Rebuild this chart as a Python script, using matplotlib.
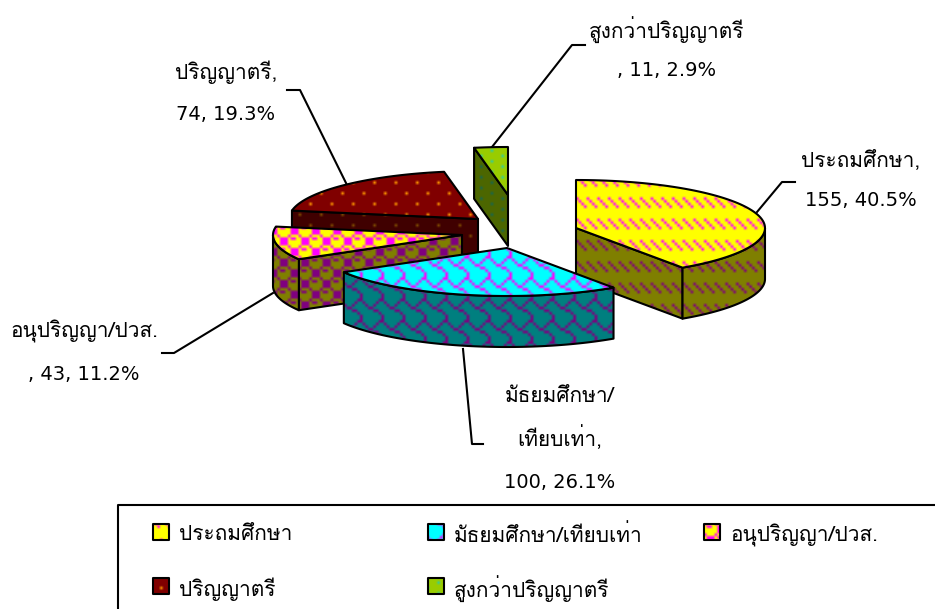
import numpy as np
import matplotlib
matplotlib.use('Agg')
import matplotlib.pyplot as plt
from matplotlib.patches import Polygon

plt.rcParams['font.family'] = ['Loma', 'DejaVu Sans']

# Data
categories = ['ประถมศึกษา', 'มัธยมศึกษา/เทียบเท่า', 'อนุปริญญา/ปวส.', 'ปริญญาตรี', 'สูงกว่าปริญญาตรี']
values = [155, 100, 43, 74, 11]
label_heads = [['ประถมศึกษา,'], ['มัธยมศึกษา/', 'เทียบเท่า,'], ['อนุปริญญา/ปวส.'], ['ปริญญาตรี,'], ['สูงกว่าปริญญาตรี']]
number_prefix = ['', '', ', ', '', ', ']

# Excel fill patterns, 8x8 bits, one byte per row
DASH = [0x00, 0x00, 0x88, 0x44, 0x22, 0x11, 0x00, 0x00]
SHINGLE = [0x03, 0x84, 0x48, 0x30, 0x0c, 0x02, 0x01, 0x01]
SPHERE = [0x77, 0x89, 0x8f, 0x8f, 0x77, 0x98, 0xf8, 0xf8]
DOTS5 = [0x80, 0x00, 0x00, 0x00, 0x08, 0x00, 0x00, 0x00]
DOTS10 = [0x80, 0x00, 0x08, 0x00, 0x80, 0x00, 0x08, 0x00]

# pattern, colour of set bits, colour of clear bits
yellow = (255, 255, 0)
cyan = (0, 255, 255)
magenta = (255, 0, 255)
styles = [
    (DASH, magenta, yellow),
    (SHINGLE, magenta, cyan),
    (SPHERE, yellow, magenta),
    (DOTS5, (255, 153, 0), (128, 0, 0)),
    (DOTS10, (51, 204, 153), (153, 204, 0)),
]

# Pie layout in pixels
W, H = 935, 609
RX, RY, DEPTH = 189, 48, 51
CX, CY = 505, 233
explode_dx = [71, 2, -43, -27, 3]
explode_dy = [-5, 15, 2, -14, -38]
BIT = 8 / 3
LW = 1.5


def darker(c):
    return tuple(v // 2 for v in c)


def fill(ax, pts, bits, on, off, z):
    # pattern image clipped to the polygon, then a black outline
    rows = np.array([[(b >> (7 - i)) & 1 for i in range(8)] for b in bits])
    ny, nx = int(H / BIT / 8) + 2, int(W / BIT / 8) + 2
    mask = np.tile(rows, (ny, nx))
    img = np.where(mask[..., None] == 1, np.array(on), np.array(off)).astype(np.uint8)
    im = ax.imshow(img, extent=(0, nx * 8 * BIT, ny * 8 * BIT, 0), interpolation='bilinear',
                   aspect='auto', zorder=z)
    poly = Polygon(pts, closed=True, facecolor='none', edgecolor='black', lw=LW,
                   joinstyle='round', zorder=z + 0.1)
    ax.add_patch(poly)
    im.set_clip_path(poly)


def arc(x0, y0, a, b):
    t = np.radians(np.linspace(a, b, 80))
    return np.column_stack([x0 + RX * np.sin(t), y0 - RY * np.cos(t)])


def side(p, q):
    # extrude the segment p-q downwards
    return [p, q, (q[0], q[1] + DEPTH), (p[0], p[1] + DEPTH)]


fig = plt.figure(figsize=(W / 100, H / 100), dpi=100)
ax = fig.add_axes([0, 0, 1, 1])

# slice angles, clockwise from 12 o'clock
total = sum(values)
ends = np.cumsum(values) / total * 360
starts = np.concatenate([[0], ends[:-1]])

# back to front
for z, i in enumerate([4, 3, 2, 0, 1]):
    a, b = starts[i], ends[i]
    x0, y0 = CX + explode_dx[i], CY + explode_dy[i]
    bits, on, off = styles[i]
    don, doff = darker(on), darker(off)
    apex = (x0, y0)
    rim = arc(x0, y0, a, b)
    z = z * 2 + 2
    if np.sin(np.radians(a)) < 0:
        fill(ax, side(apex, rim[0]), bits, don, doff, z)
    if np.sin(np.radians(b)) > 0:
        fill(ax, side(apex, rim[-1]), bits, don, doff, z)
    lo, hi = max(a, 90), min(b, 270)
    if lo < hi:
        wall = arc(x0, y0, lo, hi)
        fill(ax, np.vstack([wall, wall[::-1] + [0, DEPTH]]), bits, don, doff, z + 0.3)
    fill(ax, np.vstack([[apex], rim]), bits, on, off, z + 0.6)

# Leader lines
leaders = [
    ([757, 782, 795], [212, 182, 182]),
    ([463, 472, 483], [349, 444, 444]),
    ([273, 174, 162], [293, 353, 353]),
    ([347, 300, 287], [185, 90, 90]),
    ([492, 572, 585], [147, 45, 45]),
]
for xs, ys in leaders:
    ax.plot(xs, ys, color='black', lw=LW, zorder=1)

# Data labels, one text per line
label_x = [861, 560, 84, 226, 667]
label_line_y = [[160, 201], [396, 438, 483], [331, 375], [72, 114], [30, 71]]
for i in range(len(values)):
    pct = values[i] / total * 100
    lines = label_heads[i] + [f'{number_prefix[i]}{values[i]}, {pct:.1f}%']
    for j, line in enumerate(lines):
        is_number = j == len(lines) - 1
        ax.text(label_x[i], label_line_y[i][j], line, ha='center', va='center',
                fontsize=14 if is_number else 15,
                family=['DejaVu Sans'] if is_number else ['Loma', 'DejaVu Sans'],
                color='black', zorder=20)

# Legend box, open on the right and at the bottom
ax.plot([118, 118, W], [H, 505, 505], color='black', lw=LW, zorder=20)
swatch_x = [153, 428, 704, 153, 428]
swatch_y = [524, 524, 524, 578, 578]
for i in range(len(categories)):
    x, y = swatch_x[i], swatch_y[i]
    bits, on, off = styles[i]
    fill(ax, [(x, y), (x + 16, y), (x + 16, y + 16), (x, y + 16)], bits, on, off, 21)
    ax.text(x + 26, y + 11, categories[i], ha='left', va='center', fontsize=15, color='black', zorder=22)

ax.set_xlim(0, W)
ax.set_ylim(H, 0)
ax.axis('off')
fig.savefig('out.png', dpi=100)
